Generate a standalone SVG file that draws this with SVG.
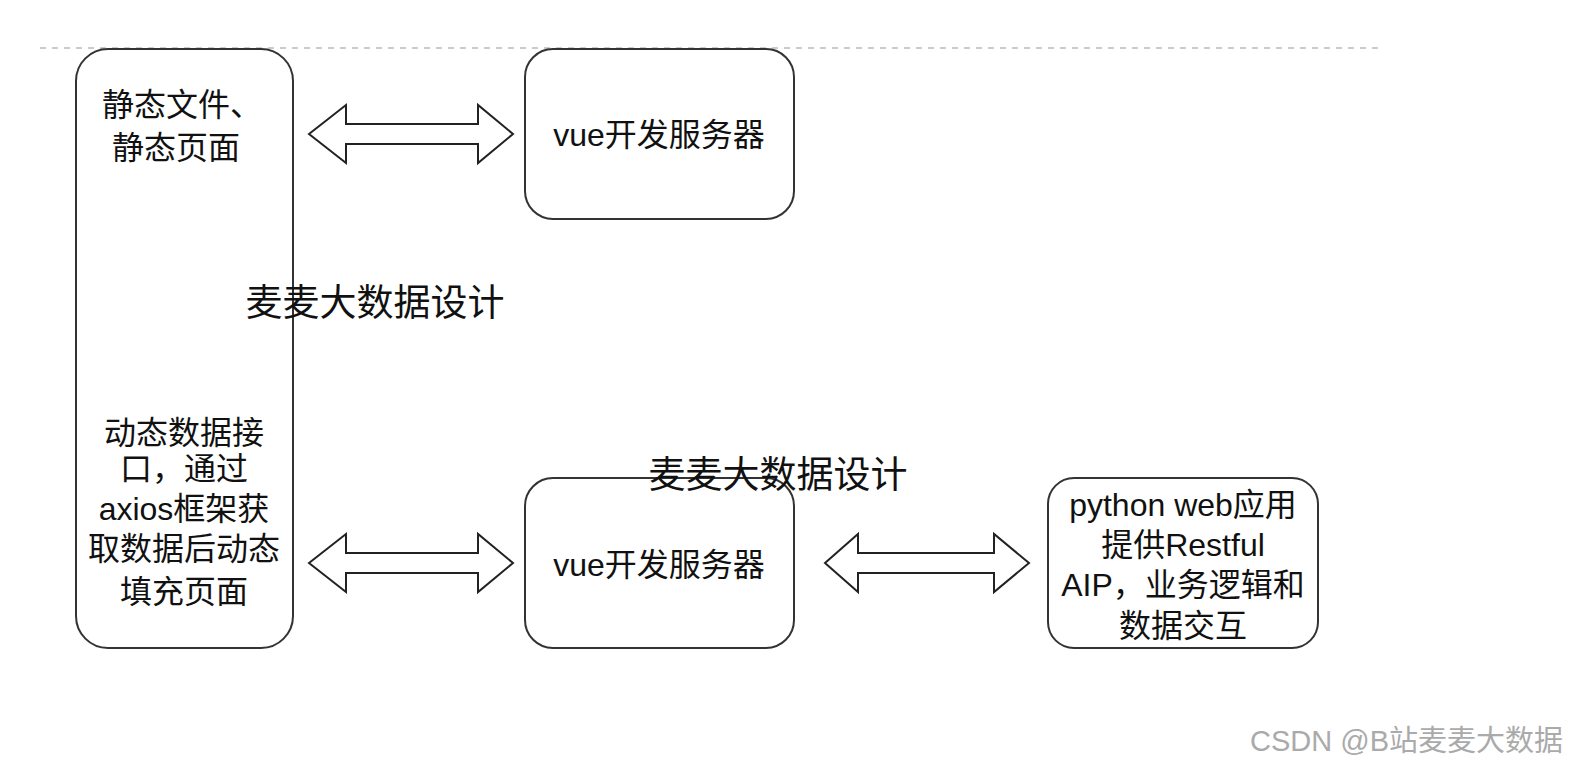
<svg xmlns="http://www.w3.org/2000/svg" width="1572" height="770" viewBox="0 0 1572 770">
<style>
.b{fill:#fff;stroke:#333;stroke-width:2}
.a{fill:#fff;stroke:#222;stroke-width:2}
text{font-family:"Liberation Sans","Noto Sans CJK SC",sans-serif;font-size:32px;fill:#111;text-anchor:middle}
.l{font-size:37px}
.w{font-size:29px;fill:#aaa;text-anchor:start}
</style>
<rect width="1572" height="770" fill="#fff"/>
<line x1="40" y1="48" x2="1380" y2="48" stroke="#bbb" stroke-width="1.5" stroke-dasharray="6,6"/>
<g id="left"><rect class="b" x="76" y="49" width="217" height="599" rx="32"/>
<text x="182" y="116">静态文件、</text><text x="176" y="159">静态页面</text>
<text x="184" y="444">动态数据接</text><text x="184" y="480">口，通过</text><text x="184" y="520">axios框架获</text><text x="184" y="560">取数据后动态</text><text x="184" y="603">填充页面</text></g>
<g id="vue1"><rect class="b" x="525" y="49" width="269" height="170" rx="28"/><text x="659" y="146">vue开发服务器</text></g>
<g id="vue2"><rect class="b" x="525" y="478" width="269" height="170" rx="28"/><text x="659" y="576">vue开发服务器</text></g>
<g id="py"><rect class="b" x="1048" y="478" width="270" height="170" rx="26"/>
<text x="1183" y="516">python web应用</text><text x="1183" y="556">提供Restful</text><text x="1183" y="596">AIP，业务逻辑和</text><text x="1183" y="637">数据交互</text></g>
<g id="labels"><text class="l" x="375" y="316">麦麦大数据设计</text><text class="l" x="778" y="488">麦麦大数据设计</text></g>
<g id="connectors">
<path class="a" d="M309,134 L346,105 L346,124 L478,124 L478,105 L513,134 L478,163 L478,144 L346,144 L346,163 Z"/>
<path class="a" d="M309,563 L346,534 L346,553 L478,553 L478,534 L513,563 L478,592 L478,573 L346,573 L346,592 Z"/>
<path class="a" d="M825,563 L858,534 L858,553 L994,553 L994,534 L1029,563 L994,592 L994,573 L858,573 L858,592 Z"/>
</g>
<text class="w" x="1250" y="751">CSDN @B站麦麦大数据</text>
</svg>
